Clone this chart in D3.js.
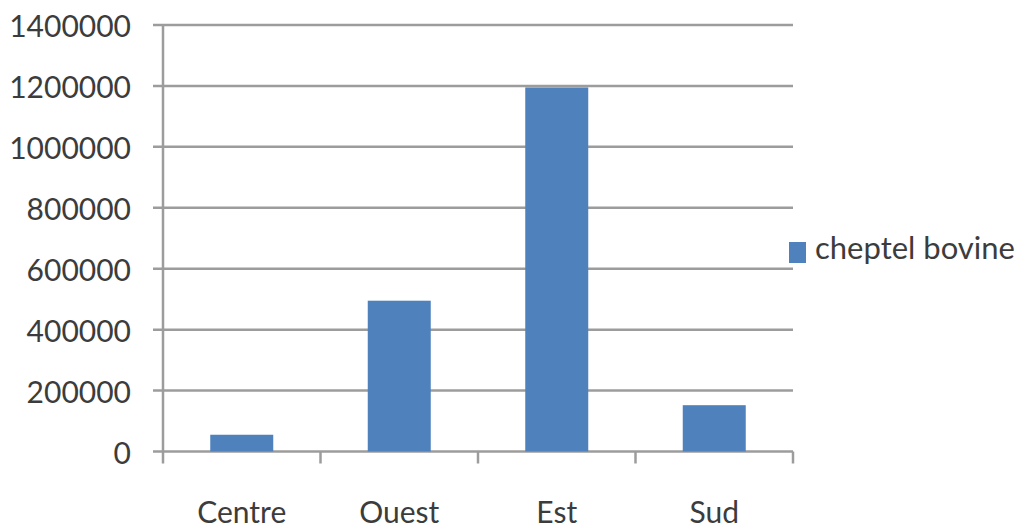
<!DOCTYPE html>
<html>
<head>
<meta charset="utf-8">
<script src="https://cdn.jsdelivr.net/npm/d3@7"></script>
<style>
  html, body { margin: 0; padding: 0; background: #fff; }
  svg { display: block; }
  text { font-family: Lato, "Open Sans", "Liberation Sans", sans-serif; fill: #3c3c3c; }
</style>
</head>
<body>
<svg id="chart" width="1029" height="531"></svg>
<script>
// Cattle herd by region
const regions = ["Centre", "Ouest", "Est", "Sud"];
const cattle = [55000, 495000, 1195000, 152000];
const yTicks = [0, 200000, 400000, 600000, 800000, 1000000, 1200000, 1400000];
const seriesName = "cheptel bovine";

(function draw() {
  const svg = d3.select("#chart");
  const plotLeft = 163, plotRight = 793, plotTop = 25, plotBottom = 451.5;
  const gridColor = "#9c9c9c";
  const barColor = "#4f81bd";

  const y = d3.scaleLinear().domain([0, 1400000]).range([plotBottom, plotTop]);
  const x = d3.scaleBand().domain(regions).range([plotLeft, plotRight])
    .paddingInner(0.6).paddingOuter(0.3);

  // horizontal gridlines with left tick stubs
  svg.append("g").selectAll("line").data(yTicks).join("line")
    .attr("x1", plotLeft - 10).attr("x2", plotRight)
    .attr("y1", d => y(d)).attr("y2", d => y(d))
    .attr("stroke", gridColor).attr("stroke-width", 2.5);

  // value axis line
  svg.append("line")
    .attr("x1", plotLeft).attr("x2", plotLeft)
    .attr("y1", y(1400000)).attr("y2", plotBottom + 12)
    .attr("stroke", gridColor).attr("stroke-width", 2.5);

  // category boundary ticks
  const bounds = regions.map(r => x(r) - x.step() * x.paddingInner() / 2 + x.step());
  svg.append("g").selectAll("line").data(bounds).join("line")
    .attr("x1", d => d).attr("x2", d => d)
    .attr("y1", plotBottom).attr("y2", plotBottom + 12)
    .attr("stroke", gridColor).attr("stroke-width", 2.5);

  // bars
  svg.append("g").selectAll("rect").data(regions).join("rect")
    .attr("x", d => x(d))
    .attr("width", x.bandwidth())
    .attr("y", (d, i) => y(cattle[i]))
    .attr("height", (d, i) => y(0) - y(cattle[i]))
    .attr("fill", barColor);

  // y tick labels
  svg.append("g").selectAll("text").data(yTicks).join("text")
    .attr("x", 131).attr("y", d => y(d))
    .attr("text-anchor", "end").attr("dominant-baseline", "central")
    .attr("font-size", 30)
    .text(d => d3.format("d")(d));

  // category labels
  svg.append("g").selectAll("text").data(regions).join("text")
    .attr("x", d => x(d) + x.bandwidth() / 2).attr("y", 523)
    .attr("text-anchor", "middle")
    .attr("font-size", 30)
    .text(d => d);

  // legend
  svg.append("rect").attr("x", 789).attr("y", 242).attr("width", 17).attr("height", 21).attr("fill", barColor);
  svg.append("text").attr("x", 815).attr("y", 259).attr("font-size", 31).text(seriesName);
})();
</script>
</body>
</html>
